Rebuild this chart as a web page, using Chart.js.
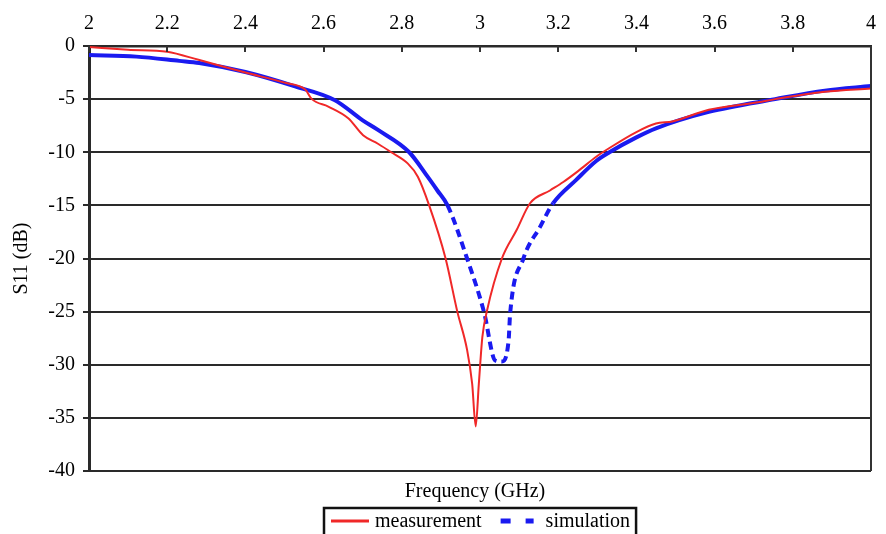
<!DOCTYPE html>
<html>
<head>
<meta charset="utf-8">
<title>S11 vs frequency</title>
<script src="https://cdn.jsdelivr.net/npm/chart.js@4/dist/chart.umd.min.js"></script>
<style>
  html, body { margin: 0; padding: 0; background: #fff; }
  #wrap { width: 886px; height: 534px; }
</style>
</head>
<body>
<div id="wrap"><canvas id="s11-chart" width="886" height="534"></canvas></div>
<script>
// Measured return loss
const measFreq = [2.0, 2.1, 2.2, 2.28, 2.4, 2.5, 2.553, 2.57, 2.612, 2.663, 2.701, 2.739, 2.773,
  2.815, 2.841, 2.870, 2.912, 2.942, 2.967, 2.980, 2.989, 2.997, 3.006, 3.018, 3.056, 3.094,
  3.128, 3.179, 3.213, 3.250, 3.298, 3.331, 3.40, 3.450, 3.492, 3.585, 3.711, 3.755, 3.882, 4.0];
const measS11 = [-0.1, -0.35, -0.55, -1.3, -2.5, -3.45, -4.1, -5.0, -5.7, -6.8, -8.4, -9.2, -10.0,
  -11.05, -12.3, -15.0, -20.0, -25.0, -28.6, -31.8, -35.8, -31.8, -27.4, -24.9, -20.0, -17.3,
  -14.8, -13.6, -12.8, -11.8, -10.4, -9.6, -8.1, -7.3, -7.1, -6.0, -5.3, -5.0, -4.3, -4.0];

// Simulated return loss
const simFreq = [2.0, 2.121, 2.231, 2.282, 2.4, 2.527, 2.629, 2.70, 2.739, 2.819, 2.866, 2.891,
  2.917, 2.967, 3.010, 3.039, 3.056, 3.073, 3.077, 3.111, 3.154, 3.187, 3.246, 3.298, 3.331,
  3.40, 3.450, 3.585, 3.755, 3.882, 4.0];
const simS11 = [-0.85, -1.0, -1.4, -1.6, -2.45, -3.8, -5.1, -7.0, -7.9, -10.0, -12.3, -13.6,
  -15.0, -20.0, -25.0, -29.6, -29.7, -27.8, -25.2, -20.0, -17.0, -14.8, -12.6, -10.8, -10.0,
  -8.6, -7.75, -6.2, -5.0, -4.2, -3.77];

const freqTickLabels = ['2', '2.2', '2.4', '2.6', '2.8', '3', '3.2', '3.4', '3.6', '3.8', '4'];
const seriesNames = ['measurement', 'simulation'];

const toPoints = (xs, ys) => xs.map((x, i) => ({ x, y: ys[i] }));

const SERIF = '"Liberation Serif", "Times New Roman", serif';
Chart.defaults.font.family = SERIF;
Chart.defaults.font.size = 20;
Chart.defaults.color = '#000';

// frame edge, inward top ticks, x title and boxed legend under the plot
const frameAndLegend = {
  id: 'frameAndLegend',
  afterDraw(chart) {
    const { ctx, chartArea: area, scales } = chart;
    ctx.save();

    ctx.strokeStyle = '#333';
    ctx.lineWidth = 2;
    ctx.beginPath();
    ctx.moveTo(area.right, area.top);
    ctx.lineTo(area.right, area.bottom);
    ctx.stroke();

    scales.x.ticks.forEach(t => {
      const px = Math.round(scales.x.getPixelForValue(t.value));
      ctx.beginPath();
      ctx.moveTo(px, area.top);
      ctx.lineTo(px, area.top + 6);
      ctx.stroke();
    });

    const midX = (area.left + area.right) / 2;
    ctx.font = '20px ' + SERIF;
    ctx.fillStyle = '#000';
    ctx.textAlign = 'center';
    ctx.textBaseline = 'alphabetic';
    ctx.fillText('Frequency (GHz)', midX - 5, area.bottom + 26);

    // legend
    const ds = chart.data.datasets;
    const w0 = ctx.measureText(ds[0].label).width;
    const w1 = ctx.measureText(ds[1].label).width;
    const boxW = 7 + 38 + 6 + w0 + 19 + 33 + 12 + w1 + 6;
    const boxL = Math.round(midX - boxW / 2);
    const boxT = area.bottom + 37;
    const rowY = boxT + 13;

    ctx.strokeStyle = '#111';
    ctx.lineWidth = 2.5;
    ctx.strokeRect(boxL, boxT, boxW, 40);

    let x = boxL + 7;
    ctx.strokeStyle = ds[0].borderColor;
    ctx.lineWidth = 3;
    ctx.beginPath();
    ctx.moveTo(x, rowY);
    ctx.lineTo(x + 38, rowY);
    ctx.stroke();
    x += 38 + 6;
    ctx.textAlign = 'left';
    ctx.fillText(ds[0].label, x, rowY + 6);
    x += w0 + 19;

    ctx.strokeStyle = ds[1].borderColor;
    ctx.lineWidth = 5;
    ctx.setLineDash([10, 15]);
    ctx.beginPath();
    ctx.moveTo(x, rowY);
    ctx.lineTo(x + 33, rowY);
    ctx.stroke();
    ctx.setLineDash([]);
    x += 33 + 12;
    ctx.fillText(ds[1].label, x, rowY + 6);

    ctx.restore();
  }
};

new Chart(document.getElementById('s11-chart'), {
  type: 'line',
  data: {
    datasets: [
      {
        label: seriesNames[0],
        data: toPoints(measFreq, measS11),
        borderColor: '#f02828',
        borderWidth: 2,
        pointRadius: 0,
        cubicInterpolationMode: 'monotone'
      },
      {
        label: seriesNames[1],
        data: toPoints(simFreq, simS11),
        borderColor: '#1a1af0',
        borderWidth: 4,
        pointRadius: 0,
        cubicInterpolationMode: 'monotone',
        // dashes only show where the curve drops steeply
        segment: {
          borderDash: c => (c.p0.parsed.y < -14.5 && c.p1.parsed.y < -14.5) ? [8, 5] : undefined
        }
      }
    ]
  },
  options: {
    responsive: false,
    animation: false,
    devicePixelRatio: 1,
    layout: { padding: { left: 0, right: 9, top: 0, bottom: 63 } },
    plugins: {
      legend: { display: false },
      tooltip: { enabled: false }
    },
    scales: {
      x: {
        type: 'linear',
        position: 'top',
        min: 2,
        max: 4,
        ticks: {
          stepSize: 0.2,
          padding: 10,
          maxRotation: 0,
          callback: (v, i) => freqTickLabels[i]
        },
        grid: { display: false, drawTicks: false },
        border: { display: true, color: '#2a2a2a', width: 2.5 },
        afterFit: s => { s.height = 46; }
      },
      y: {
        min: -40,
        max: 0,
        ticks: { stepSize: 5, padding: 8 },
        grid: { color: '#2a2a2a', lineWidth: 2, tickLength: 6, tickColor: '#2a2a2a' },
        border: { display: true, color: '#2a2a2a', width: 3 },
        title: { display: true, text: 'S11 (dB)', padding: { top: 10, bottom: 0 } },
        afterFit: s => { s.width = 89; }
      }
    }
  },
  plugins: [frameAndLegend]
});
</script>
</body>
</html>
